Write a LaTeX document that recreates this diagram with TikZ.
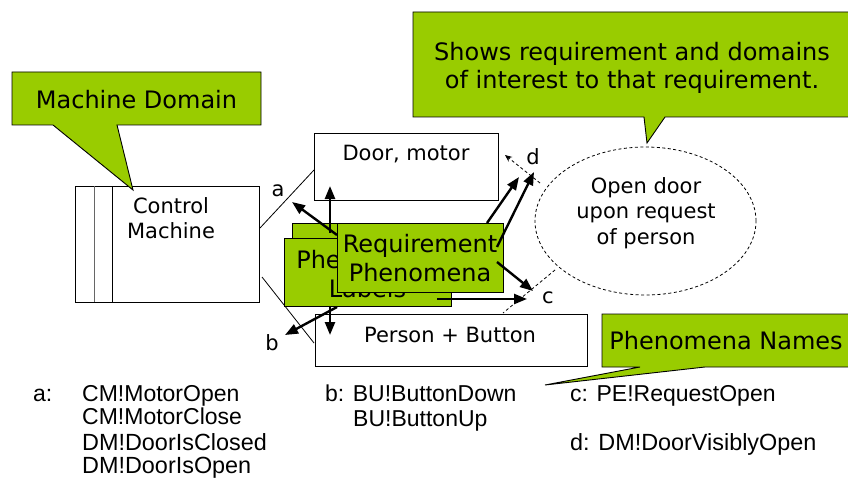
\documentclass[tikz,border=0pt]{standalone}
\usepackage{fontspec}
\setmainfont{DejaVu Sans}
\newfontfamily\listfont{Liberation Sans}
\usetikzlibrary{arrows.meta,shapes.geometric}
\definecolor{lime}{HTML}{99CC00}

\tikzset{
  domainbox/.style={draw=black, line width=0.9pt, fill=white, inner sep=0, anchor=north west},
  greenbox/.style={draw=black, line width=0.9pt, fill=lime, inner sep=0, anchor=north west},
  calloutshape/.style={draw=black, line width=0.9pt, fill=lime, line join=miter},
  bodytext/.style={font=\fontsize{21}{25.5}\selectfont, align=center, inner sep=0},
  bigtext/.style={font=\fontsize{24}{29}\selectfont, align=center, inner sep=0},
  labeltext/.style={font=\fontsize{21}{25}\selectfont, inner sep=0},
  phenarrow/.style={line width=2.4pt, -{Triangle[length=13pt,width=10pt]}},
  thinline/.style={line width=0.8pt},
  reqline/.style={line width=0.8pt, dash pattern=on 3pt off 2.5pt},
  listtext/.style={font=\listfont\fontsize{23}{27}\selectfont, anchor=base west, inner sep=0},
  listbig/.style={font=\listfont\fontsize{23.4}{28}\selectfont, anchor=base west, inner sep=0},
}

\begin{document}
\begin{tikzpicture}[x=1pt,y=-1pt]
\clip (0,0) rectangle (848,484);
\fill[white] (0,0) rectangle (848,484);

% ---- problem domains ----
\node[domainbox, minimum width=184pt, minimum height=116pt] (cm) at (75,186) {};
\draw[thinline, black!60] (94,186) -- (94,302);
\draw[thinline] (112,186) -- (112,302);
\node[bodytext] (cmtext) at (171,218) {Control\\Machine};

\node[domainbox, minimum width=184pt, minimum height=67pt] (door) at (314,133) {};
\node[bodytext] (doortext) at (406,154) {Door, motor};

\node[domainbox, minimum width=272pt, minimum height=52pt] (person) at (315,314) {};
\node[bodytext] (persontext) at (450,335) {Person + Button};

% ---- requirement ----
\node[draw, reqline, ellipse, minimum width=221pt, minimum height=148pt, inner sep=0] (req) at (645.5,221) {};
\node[bodytext] (reqtext) at (646,213) {Open door\\upon request\\of person};

% ---- interfaces between machine and domains ----
\coordinate (cmA) at (260,228);
\coordinate (doorA) at (314,170);
\coordinate (cmB) at (262,277);
\coordinate (personB) at (314,343);
\draw[thinline] (cmA) -- (doorA);
\draw[thinline] (cmB) -- (personB);

% ---- requirement references ----
\coordinate (reqD) at (540,183);
\coordinate (doorD) at (505,155);
\coordinate (reqC) at (555,270);
\coordinate (personC) at (503,313);
\draw[reqline, -{Stealth[length=7pt,width=6pt]}] (reqD) -- (doorD);
\draw[reqline] (reqC) -- (personC);

% ---- interface labels ----
\node[labeltext] (la) at (278,191) {a};
\node[labeltext] (lb) at (272,343) {b};
\node[labeltext] (lc) at (548,298) {c};
\node[labeltext] (ld) at (533,157) {d};

% ---- green annotation boxes ----
\node[greenbox, minimum width=167pt, minimum height=68pt] (labelsback) at (292,223) {};
\node[greenbox, minimum width=167pt, minimum height=68pt] (labels) at (284,238) {};
\node[bigtext] (labelstext) at (367.5,274) {Phenomena\\Labels};
\node[greenbox, minimum width=166pt, minimum height=69pt] (reqphen) at (337,223) {};
\node[bigtext] (reqphentext) at (420,258) {Requirement\\Phenomena};

% ---- arrows from the labels to the interfaces ----
\coordinate (upS) at (330,233);   \coordinate (upE) at (330,186);
\coordinate (aS) at (337,235);    \coordinate (aE) at (292,202);
\coordinate (d1S) at (487,223);   \coordinate (d1E) at (519,177);
\coordinate (d2S) at (497,247);   \coordinate (d2E) at (534,172);
\coordinate (c1S) at (497,262);   \coordinate (c1E) at (533,291);
\coordinate (c2S) at (437,299);   \coordinate (c2E) at (527,299);
\coordinate (dnS) at (330,307);   \coordinate (dnE) at (330,335);
\coordinate (bS) at (337,307);    \coordinate (bE) at (285,335);
\draw[phenarrow] (upS) -- (upE);
\draw[phenarrow] (aS) -- (aE);
\draw[phenarrow] (d1S) -- (d1E);
\draw[phenarrow] (d2S) -- (d2E);
\draw[phenarrow] (c1S) -- (c1E);
\draw[phenarrow] (c2S) -- (c2E);
\draw[phenarrow] (dnS) -- (dnE);
\draw[phenarrow] (bS) -- (bE);

% ---- callouts ----
\draw[calloutshape] (12,72) -- (261,72) -- (261,125) -- (117,125) -- (133,190) -- (53,125) -- (12,125) -- cycle;
\node[bigtext] (mdtext) at (136.5,100) {Machine Domain};

\draw[calloutshape] (413,12) -- (852,12) -- (852,117) -- (665,117) -- (647,143) -- (644,117) -- (413,117) -- cycle;
\node[bigtext, font=\fontsize{24}{28}\selectfont] (showstext) at (632,68) {Shows requirement and domains\\of interest to that requirement.};

\draw[calloutshape] (602,314) -- (852,314) -- (852,367) -- (705,367) -- (545,385) -- (640,367) -- (602,367) -- cycle;
\node[bigtext] (pntext) at (726,341) {Phenomena Names};

% ---- phenomena names ----
\node[listtext] (na) at (33,401) {a:};
\node[listtext] (na1) at (82,401) {CM!MotorOpen};
\node[listtext] (na2) at (82,424) {CM!MotorClose};
\node[listbig] (na3) at (82,450) {DM!DoorIsClosed};
\node[listbig] (na4) at (82,473) {DM!DoorIsOpen};
\node[listtext] (nb1) at (325,401) {b: BU!ButtonDown};
\node[listtext] (nb2) at (353,426) {BU!ButtonUp};
\node[listtext] (nc) at (570,401) {c: PE!RequestOpen};
\node[listbig] (nd) at (570,450) {d: DM!DoorVisiblyOpen};
\end{tikzpicture}
\end{document}
